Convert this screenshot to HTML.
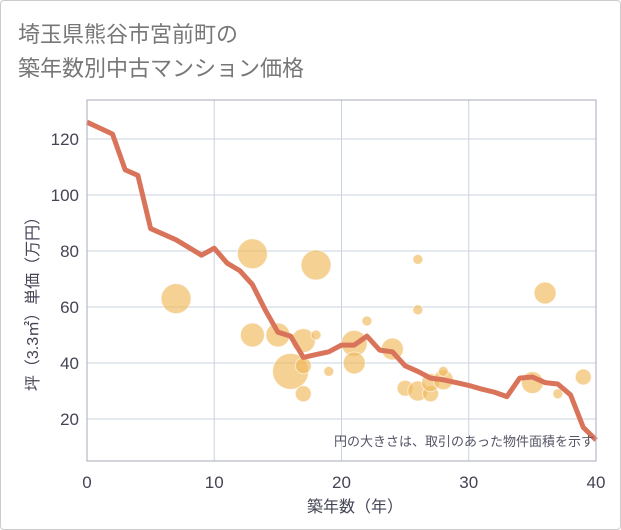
<!DOCTYPE html>
<html><head><meta charset="utf-8"><style>
body{margin:0;background:#fff;font-family:"Liberation Sans","Noto Sans CJK JP",sans-serif;}
#wrap{position:relative;width:619px;height:528px;border:1px solid #ccc;border-radius:4px;background:#fff}
</style></head><body>
<div id="wrap">
<svg id="c" width="621" height="530" style="position:absolute;left:-1px;top:-1px">
<text x="18" y="42" font-size="22" fill="#777">埼玉県熊谷市宮前町の</text>
<text x="18" y="76" font-size="22" fill="#777">築年数別中古マンション価格</text>
<g id="grid"></g><g id="bub"></g><g id="ln"></g><g id="ax"></g>
<text x="594" y="446" font-size="13" fill="#556" text-anchor="end">円の大きさは、取引のあった物件面積を示す</text>
<text x="355" y="512" font-size="16" fill="#445" text-anchor="middle">築年数（年）</text>
<text transform="translate(38,300) rotate(-90)" font-size="16" fill="#445" text-anchor="middle">坪（3.3㎡）単価（万円）</text>
</svg></div>
<script>
const lineYears=[0,2,3,4,5,7,9,10,11,12,13,14,15,16,17,18,19,20,21,22,23,24,25,26,27,28,29,30,31,32,33,34,35,36,37,38,39,40];
const lineValues=[126,121.8,109,107,88,84,78.5,81,75.7,73,68,59,51,49.6,42,43,44,46.4,46.4,49.6,44.6,44,39,37,34.6,34,33,32,30.7,29.6,28,34.6,35,33,32.5,28.6,17,12.5];
const bubbleYears=[7,13,13,16,15,17,17,17,18,18,19,21,21,22,24,25,26,26,26,27,27,28,28,35,36,37,39];
const bubbleValues=[63,79,50,37,50,48,39,29,75,50,37,47,40,55,45,31,30,77,59,29,33,34,37,33,65,29,35];
const bubbleSizes=[15,15,12,18,12,12,8,8,15,5,5,13,11,5,11,8,10,5,5,8,9,10,5,11,11,5,8];
const xTicks=[0,10,20,30,40];
const yTicks=[20,40,60,80,100,120];
const L=87,R=596,T=100,B=461;
const X=v=>L+(R-L)*v/40, Y=v=>475-2.8*v;
const NS="http://www.w3.org/2000/svg";
function mk(p,t,a){const e=document.createElementNS(NS,t);for(const k in a)e.setAttribute(k,a[k]);document.getElementById(p).appendChild(e);return e;}
for(const t of xTicks){
 const g=mk('grid','line',{x1:X(t),x2:X(t),y1:T,y2:B,stroke:'#c8d3e0'});
 
 
 const s=mk('ax','text',{x:X(t),y:488,'font-size':17,fill:'#445','text-anchor':'middle'});s.textContent=t;
 
 
}
for(const t of yTicks){
 const g=mk('grid','line',{x1:L,x2:R,y1:Y(t),y2:Y(t),stroke:'#c8d3e0'});
 
 
 const s=mk('ax','text',{x:79,y:Y(t)+6,'font-size':17,fill:'#445','text-anchor':'end'});s.textContent=t;
 
 
}
const fr=mk('ax','rect',{x:L,y:T,width:R-L,height:B-T,fill:'none',stroke:'#aab'});


bubbleYears.forEach((y,i)=>{
 const c=mk('bub','circle',{cx:X(y),cy:Y(bubbleValues[i]),r:bubbleSizes[i],fill:'#f0b95a','fill-opacity':0.65,stroke:'#fff','stroke-opacity':0.6});
 
 
});
const pl=mk('ln','polyline',{points:lineYears.map((y,i)=>X(y)+','+Y(lineValues[i])).join(' '),fill:'none',stroke:'#d9735a','stroke-width':5,'stroke-linejoin':'round'});


</script>
</body></html>
